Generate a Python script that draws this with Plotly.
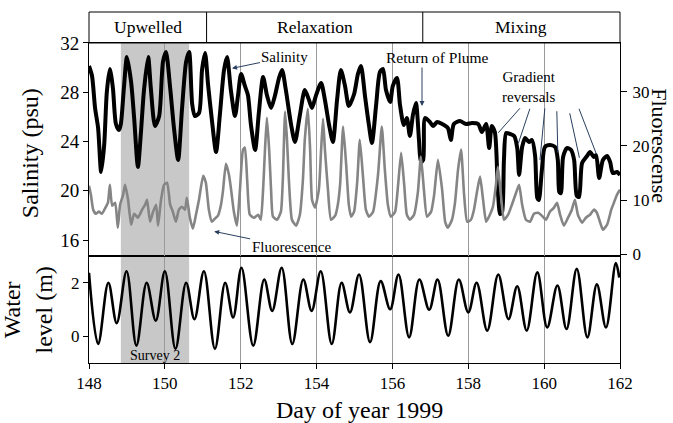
import plotly.graph_objects as go

# ---------------- data ----------------
sal_day = [148.00,148.08,148.16,148.24,148.32,148.40,148.47,148.55,148.63,148.71,148.79,148.84,148.92,149.00,
           149.11,149.19,149.29,149.37,149.45,149.56,149.63,149.74,149.85,149.95,150.03,150.14,150.24,150.35,
           150.45,150.56,150.64,150.72,150.79,150.90,150.98,151.06,151.14,151.24,151.35,151.45,151.56,151.64,
           151.74,151.85,151.93,152.01,152.11,152.19,152.27,152.38,152.48,152.59,152.69,152.80,152.90,153.01,
           153.09,153.19,153.33,153.43,153.56,153.69,153.80,153.88,153.98,154.12,154.22,154.33,154.43,154.54,
           154.64,154.75,154.85,154.99,155.09,155.17,155.28,155.38,155.46,155.57,155.67,155.75,155.83,155.94,
           156.01,156.12,156.20,156.30,156.38,156.46,156.54,156.62,156.70,156.75,156.81,156.86,156.99,157.07,
           157.18,157.31,157.46,157.54,157.62,157.78,157.94,158.10,158.26,158.36,158.47,158.55,158.62,158.70,
           158.78,158.84,158.89,158.94,159.00,159.10,159.21,159.29,159.34,159.42,159.50,159.60,159.68,159.76,
           159.82,159.86,159.94,160.02,160.15,160.29,160.36,160.40,160.44,160.50,160.60,160.71,160.79,160.86,
           160.92,161.00,161.13,161.21,161.31,161.37,161.45,161.55,161.66,161.74,161.81,161.92,162.00]
sal_psu = [30.13,29.32,26.72,25.10,21.52,23.71,28.02,29.89,28.34,25.42,24.93,25.42,28.34,30.86,
           28.83,25.91,21.93,24.77,28.18,30.86,28.34,25.26,26.07,30.46,31.27,28.34,25.10,22.50,
           26.56,30.46,31.27,27.04,26.07,26.31,29.81,31.19,28.59,25.75,23.15,26.15,29.81,30.86,
           28.18,26.07,27.78,29.48,28.51,27.78,25.34,23.31,26.39,29.24,27.78,26.72,27.69,29.16,
           29.81,28.18,25.34,23.96,26.15,28.18,27.37,26.72,27.69,28.75,27.37,25.34,23.96,27.37,
           29.81,28.51,26.88,27.86,29.48,30.13,27.61,25.34,23.88,26.96,29.64,29.89,28.18,27.21,
           28.51,29.16,26.96,25.34,25.91,24.45,26.15,27.13,24.12,22.33,22.50,25.91,25.58,25.26,
           25.58,25.42,25.10,24.12,25.42,25.66,25.42,25.50,25.42,24.77,25.42,23.47,25.26,24.77,
           20.06,18.11,18.27,22.50,24.69,24.61,24.45,23.47,21.28,23.55,24.28,23.96,24.12,22.90,
           19.40,19.25,21.68,23.55,23.71,23.55,22.50,19.90,19.81,22.74,23.47,23.31,22.50,19.60,
           19.49,22.25,22.82,23.15,22.74,22.90,21.03,22.50,22.82,22.33,21.44,21.52,21.28]

fl_day = [148.00,148.05,148.11,148.18,148.26,148.34,148.42,148.50,148.55,148.61,148.69,148.76,148.82,148.90,
          148.95,149.03,149.11,149.19,149.29,149.40,149.48,149.53,149.61,149.69,149.77,149.82,149.90,149.98,
          150.06,150.14,150.21,150.29,150.37,150.45,150.53,150.58,150.66,150.74,150.82,150.90,151.01,151.08,
          151.16,151.24,151.32,151.40,151.48,151.53,151.61,151.69,151.74,151.82,151.90,151.98,152.06,152.11,
          152.17,152.24,152.35,152.46,152.53,152.59,152.64,152.69,152.75,152.80,152.85,152.96,153.06,153.11,
          153.17,153.22,153.27,153.35,153.46,153.56,153.64,153.69,153.77,153.83,153.88,153.96,154.06,154.12,
          154.17,154.22,154.30,154.38,154.49,154.56,154.62,154.70,154.78,154.85,154.91,154.99,155.07,155.14,
          155.22,155.30,155.38,155.49,155.62,155.72,155.80,155.88,155.96,156.07,156.15,156.23,156.31,156.38,
          156.46,156.57,156.67,156.75,156.83,156.91,157.02,157.10,157.20,157.31,157.39,157.46,157.57,157.65,
          157.73,157.81,157.89,157.97,158.07,158.15,158.23,158.31,158.39,158.47,158.57,158.65,158.73,158.78,
          158.86,158.94,159.05,159.15,159.26,159.34,159.42,159.52,159.63,159.73,159.84,159.94,160.05,160.15,
          160.26,160.34,160.42,160.52,160.63,160.73,160.81,160.89,161.00,161.10,161.21,161.31,161.39,161.47,
          161.55,161.66,161.77,161.84,161.92,162.00]
fl_val = [12.68,11.01,8.25,7.51,7.88,7.51,8.43,9.54,12.86,8.99,9.54,4.93,9.17,11.01,
          12.86,10.09,5.48,7.51,6.77,8.25,9.17,10.09,6.03,7.88,9.17,5.30,10.09,12.86,
          13.23,9.17,7.88,6.03,8.25,8.80,8.25,10.46,6.77,4.74,7.32,10.09,14.52,13.23,
          8.25,6.03,6.59,7.14,9.17,11.57,16.73,14.70,12.31,7.88,5.30,11.94,19.32,19.69,
          13.78,7.32,6.77,7.32,6.40,11.94,19.32,25.22,19.32,11.94,6.96,6.40,7.88,13.78,
          26.33,21.16,13.78,6.40,5.30,7.32,13.78,21.16,26.88,19.32,10.09,8.62,11.94,19.32,
          25.03,19.32,11.94,6.40,7.14,9.17,12.86,23.57,16.55,9.17,6.96,7.88,13.23,21.16,
          14.70,8.25,6.96,7.88,14.70,23.57,15.63,9.17,6.96,7.88,12.86,18.76,12.86,7.32,
          6.40,7.32,11.38,18.03,11.94,6.96,7.88,11.01,17.47,11.94,6.03,4.93,6.40,9.54,
          15.63,19.32,11.01,6.03,6.40,8.25,11.57,14.34,10.09,6.03,7.32,8.80,12.86,16.18,
          11.01,6.40,7.32,9.17,11.38,12.86,9.17,6.40,6.03,7.51,7.69,7.14,6.40,7.88,
          8.62,9.54,7.32,5.30,6.77,8.25,10.09,7.32,5.85,6.77,7.32,8.25,7.69,6.03,
          4.56,5.48,8.25,9.54,11.01,11.94]

wl_day = [148.00,148.24,148.51,148.73,148.99,149.25,149.52,149.76,150.00,150.28,150.56,150.78,151.03,151.32,
          151.59,151.80,152.02,152.33,152.62,152.83,153.08,153.36,153.65,153.87,154.11,154.40,154.66,154.88,
          155.12,155.41,155.69,155.94,156.16,156.44,156.71,156.97,157.19,157.47,157.75,158.00,158.22,158.50,
          158.79,159.06,159.29,159.54,159.82,160.08,160.35,160.59,160.86,161.14,161.39,161.63,161.89,161.98]
wl_m = [2.37,-0.29,2.00,0.49,2.43,-0.35,2.00,0.58,2.43,-0.47,2.00,0.64,2.43,-0.47,
        2.00,0.70,2.56,-0.35,2.12,0.95,2.56,-0.29,2.12,0.95,2.43,-0.29,2.00,0.89,
        2.31,-0.22,2.06,1.01,2.31,-0.04,2.12,0.99,2.12,0.02,2.12,0.89,2.00,0.21,
        2.31,0.64,1.87,0.21,2.39,0.33,1.90,0.27,2.52,-0.04,1.94,0.33,2.74,2.19]

phase_bounds = [148, 151.1, 156.8, 162]
phase_names = ["Upwelled", "Relaxation", "Mixing"]
survey_span = [148.84, 150.64]
x_ticks = [148, 150, 152, 154, 156, 158, 160, 162]
sal_ticks = [16, 20, 24, 28, 32]
fl_ticks = [0, 10, 20, 30]
wl_ticks = [0, 2]
reversal_day = [158.79, 159.32, 159.89, 160.36, 160.93, 161.38]
reversal_psu = [24.71, 23.85, 22.50, 23.09, 22.68, 22.96]

# ---------------- figure ----------------
FONT = "Liberation Serif, Times New Roman, serif"
TOP = 0.9117   # header bottom / middle panel top
MID = 0.3048   # middle / bottom panel boundary

fig = go.Figure()
fig.add_trace(go.Scatter(x=fl_day, y=fl_val, xaxis="x2", yaxis="y3", mode="lines",
                         line=dict(color="#858585", width=2.6, shape="spline", smoothing=0.5),
                         hoverinfo="skip", showlegend=False))
fig.add_trace(go.Scatter(x=sal_day, y=sal_psu, xaxis="x2", yaxis="y2", mode="lines",
                         line=dict(color="black", width=4, shape="spline", smoothing=0.7),
                         hoverinfo="skip", showlegend=False))
fig.add_trace(go.Scatter(x=wl_day, y=wl_m, xaxis="x", yaxis="y", mode="lines",
                         line=dict(color="black", width=2.6, shape="spline", smoothing=1.0),
                         hoverinfo="skip", showlegend=False))

axis_common = dict(showline=True, linecolor="black", linewidth=1, mirror=True,
                   ticks="outside", ticklen=5, tickcolor="black", zeroline=False)

fig.update_layout(
    width=673, height=423,
    margin=dict(l=89, r=53, t=12, b=60, autoexpand=False),
    paper_bgcolor="white", plot_bgcolor="rgba(0,0,0,0)",
    font=dict(family=FONT, color="black", size=15),
    xaxis=dict(domain=[0, 1], anchor="y", range=[148, 162], tickvals=x_ticks,
               showgrid=True, gridcolor="#9a9a9a", gridwidth=1,
               tickfont=dict(size=17, family=FONT), **axis_common),
    yaxis=dict(domain=[0, MID], anchor="x", range=[-1, 3], tickvals=wl_ticks,
               showgrid=False, tickfont=dict(size=17, family=FONT), **axis_common),
    xaxis2=dict(domain=[0, 1], anchor="y2", matches="x", range=[148, 162], tickvals=x_ticks,
                showticklabels=False, showgrid=True, gridcolor="#9a9a9a", gridwidth=1,
                showline=True, linecolor="black", linewidth=1, mirror=True, ticks="", zeroline=False),
    yaxis2=dict(domain=[MID, TOP], anchor="x2", range=[14.7, 32], tickvals=sal_ticks,
                showgrid=False, tickfont=dict(size=19, family=FONT),
                showline=True, linecolor="black", linewidth=1, mirror=False,
                ticks="outside", ticklen=5, tickcolor="black", zeroline=False),
    yaxis3=dict(overlaying="y2", anchor="x2", side="right", range=[-0.3, 39], tickvals=fl_ticks,
                showgrid=False, tickfont=dict(size=17, family=FONT), ticklabelstandoff=2,
                showline=True, linecolor="black", linewidth=1,
                ticks="outside", ticklen=6, tickcolor="black", zeroline=False),
)

shapes = []
# survey shading spanning both data panels
shapes.append(dict(type="rect", xref="x", yref="paper", x0=survey_span[0], x1=survey_span[1],
                   y0=0, y1=TOP, fillcolor="#c8c8c8", line=dict(width=0), layer="below"))
# header box
shapes.append(dict(type="rect", xref="paper", yref="paper", x0=0, x1=1, y0=TOP, y1=1,
                   line=dict(color="black", width=1), fillcolor="rgba(0,0,0,0)"))
for b in phase_bounds[1:-1]:
    shapes.append(dict(type="line", xref="x", yref="paper", x0=b, x1=b, y0=TOP, y1=1,
                       line=dict(color="black", width=1)))
fig.update_layout(shapes=shapes)

C = dict(xanchor="center", yanchor="middle")
ann = []
for i, name in enumerate(phase_names):
    ann.append(dict(x=(phase_bounds[i] + phase_bounds[i + 1]) / 2, y=(TOP + 1) / 2,
                    xref="x", yref="paper", text=name, showarrow=False,
                    font=dict(size=17.5, family=FONT), **C))
# axis titles
ann.append(dict(x=-0.111, y=0.598, xref="paper", yref="paper", text="Salinity (psu)",
                textangle=-90, showarrow=False, font=dict(size=24, family=FONT), **C))
ann.append(dict(x=-0.114, y=0.151, xref="paper", yref="paper", text="Water<br>level (m)",
                textangle=-90, showarrow=False, font=dict(size=24, family=FONT), **C))
ann.append(dict(x=1.075, y=0.618, xref="paper", yref="paper", text="Fluorescense",
                textangle=90, showarrow=False, borderpad=0, font=dict(size=22, family=FONT), **C))
ann.append(dict(x=0.5085, y=-0.134, xref="paper", yref="paper", text="Day of year 1999",
                showarrow=False, font=dict(size=24, family=FONT), **C))
# in-plot labels
ann.append(dict(x=151.77, y=29.94, xref="x2", yref="y2", text="Salinity", ax=53, ay=-11,
                showarrow=True, arrowhead=2, arrowsize=1, arrowwidth=1, font=dict(size=15, family=FONT)))
ann.append(dict(x=151.30, y=16.70, xref="x2", yref="y2", text="Fluorescence", ax=77, ay=16,
                showarrow=True, arrowhead=2, arrowsize=1, arrowwidth=1, font=dict(size=15, family=FONT)))
ann.append(dict(x=157.2, y=30.85, xref="x2", yref="y2", text="Return of Plume", showarrow=False,
                font=dict(size=15.5, family=FONT), **C))
ann.append(dict(x=156.78, y=26.88, xref="x2", yref="y2", text="", ax=0, ay=-40,
                showarrow=True, arrowhead=2, arrowsize=1, arrowwidth=1))
ann.append(dict(x=159.6, y=28.4, xref="x2", yref="y2", text="Gradient<br>reversals", showarrow=False,
                font=dict(size=15, family=FONT), **C))
rev_off = [(23, -26), (12, -36), (5, -53), (-1, -43), (-10, -46), (-18, -47)]
for d, s, (ox, oy) in zip(reversal_day, reversal_psu, rev_off):
    ann.append(dict(x=d, y=s, xref="x2", yref="y2", text="", ax=ox, ay=oy,
                    showarrow=True, arrowhead=0, arrowwidth=1, standoff=0))
ann.append(dict(x=(survey_span[0] + survey_span[1]) / 2, y=-0.73, xref="x", yref="y",
                text="Survey 2", showarrow=False, font=dict(size=14, family=FONT), **C))
fig.update_layout(annotations=ann)

fig.write_html("out.html")
